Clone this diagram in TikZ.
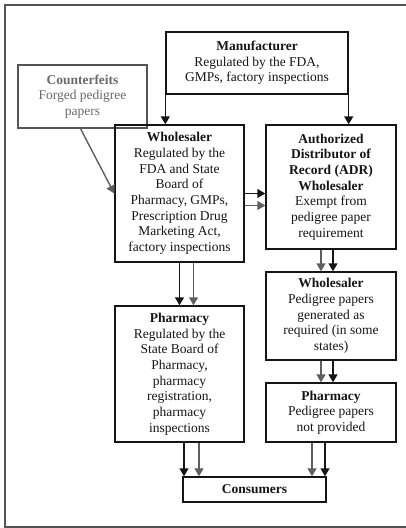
\documentclass[tikz,border=0pt]{standalone}
\usepackage{fontspec}
\setmainfont{Liberation Serif}
\usetikzlibrary{arrows.meta,calc}
\definecolor{framegray}{HTML}{555555}
\definecolor{arrgray}{HTML}{5E5E5E}
\definecolor{txtgray}{HTML}{6A6A6A}
\definecolor{ink}{HTML}{151515}
\begin{document}
\begin{tikzpicture}[x=1pt,y=-1pt,
  box/.style={draw=ink,line width=1.4pt,rectangle,inner sep=0pt,align=center,
    font=\fontsize{13.5}{15.7}\selectfont,text=ink},
  arr/.style={draw=ink,line width=1.4pt,-{Triangle[width=9pt,length=8pt]}},
  garr/.style={draw=arrgray,line width=1.4pt,-{Triangle[width=9pt,length=8pt]}}]
\useasboundingbox (0,0) rectangle (406,528);
% outer frame (open on the right)
\draw[framegray,line width=1.6pt] (406,5) -- (5,5) -- (5,527) -- (406,527);

\node[box,minimum width=182pt,minimum height=62pt] (man) at (257,63)
  {\textbf{Manufacturer}\\Regulated by the FDA,\\GMPs, factory inspections};
\node[box,draw=framegray,text=txtgray,minimum width=129pt,minimum height=63pt] (cf) at (82.5,96.5)
  {\textbf{Counterfeits}\\Forged pedigree\\papers};
\node[box,minimum width=129pt,minimum height=137pt] (ws1) at (179.5,193.5)
  {\textbf{Wholesaler}\\Regulated by the\\FDA and State\\Board of\\Pharmacy, GMPs,\\Prescription Drug\\Marketing Act,\\factory inspections};
\node[box,minimum width=130pt,minimum height=124pt] (adr) at (331,187)
  {\textbf{Authorized}\\\textbf{Distributor of}\\\textbf{Record (ADR)}\\\textbf{Wholesaler}\\Exempt from\\pedigree paper\\requirement};
\node[box,minimum width=130pt,minimum height=88pt] (ws2) at (331,316)
  {\textbf{Wholesaler}\\Pedigree papers\\generated as\\required (in some\\states)};
\node[box,minimum width=129pt,minimum height=136pt] (ph1) at (179.5,374)
  {\textbf{Pharmacy}\\Regulated by the\\State Board of\\Pharmacy,\\pharmacy\\registration,\\pharmacy\\inspections};
\node[box,minimum width=130pt,minimum height=59pt] (ph2) at (331,412.5)
  {\textbf{Pharmacy}\\Pedigree papers\\not provided};
\node[box,minimum width=143pt,minimum height=25pt] (cons) at (254.5,489.5)
  {\textbf{Consumers}};

% manufacturer to wholesaler / ADR
\draw[arr] (man.south west) -- (man.south west |- ws1.north);
\draw[arr] (man.south east) -- (man.south east |- adr.north);
% counterfeits
\draw[garr] ([xshift=-2pt]cf.south) -- (ws1.west);
% wholesaler to ADR
\draw[arr] (ws1.east) -- (ws1.east -| adr.west);
\draw[garr] ([yshift=-12pt]ws1.east) -- ([yshift=-12pt]ws1.east -| adr.west);
% wholesaler to pharmacy
\draw[arr] (ws1.south) -- (ws1.south |- ph1.north);
\draw[garr] ([xshift=14pt]ws1.south) -- ([xshift=14pt]ws1.south |- ph1.north);
% ADR to wholesaler
\draw[garr] ([xshift=-10pt]adr.south) -- ([xshift=-10pt]adr.south |- ws2.north);
\draw[arr] ([xshift=2pt]adr.south) -- ([xshift=2pt]adr.south |- ws2.north);
% wholesaler to pharmacy (right)
\draw[garr] ([xshift=-10pt]ws2.south) -- ([xshift=-10pt]ws2.south |- ph2.north);
\draw[arr] ([xshift=2pt]ws2.south) -- ([xshift=2pt]ws2.south |- ph2.north);
% pharmacies to consumers
\draw[arr] ([xshift=4.5pt]ph1.south) -- ([xshift=4.5pt]ph1.south |- cons.north);
\draw[garr] ([xshift=19.5pt]ph1.south) -- ([xshift=19.5pt]ph1.south |- cons.north);
\draw[garr] ([xshift=-19pt]ph2.south) -- ([xshift=-19pt]ph2.south |- cons.north);
\draw[arr] ([xshift=-6pt]ph2.south) -- ([xshift=-6pt]ph2.south |- cons.north);
\end{tikzpicture}
\end{document}
